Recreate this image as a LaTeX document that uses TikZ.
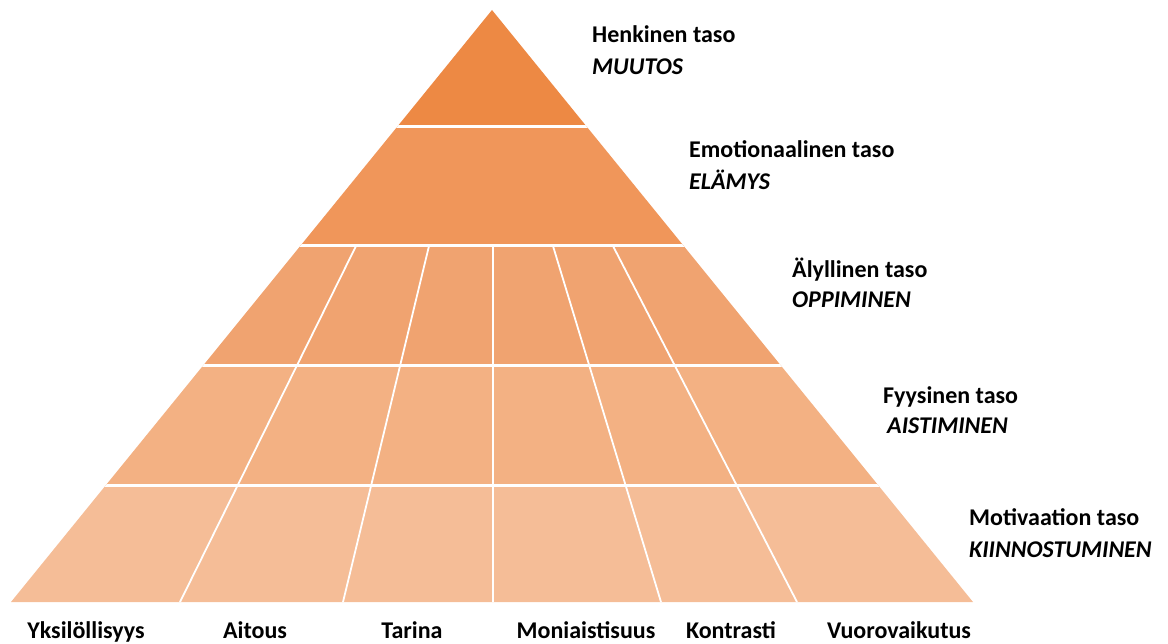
\documentclass[tikz,border=0pt]{standalone}
\usepackage{fontspec}
\usetikzlibrary{calc}
\setmainfont{Carlito}
\definecolor{lvA}{RGB}{237,137,68}
\definecolor{lvB}{RGB}{240,150,90}
\definecolor{lvC}{RGB}{240,163,112}
\definecolor{lvD}{RGB}{243,177,131}
\definecolor{lvE}{RGB}{245,189,151}
\tikzset{
  lvlabel/.style={anchor=base west, inner sep=0pt, font=\fontsize{24}{28}\selectfont\bfseries},
  lvsub/.style={anchor=base west, inner sep=0pt, font=\fontsize{24}{28}\selectfont\bfseries\itshape},
  botlabel/.style={anchor=base, inner sep=0pt, font=\fontsize{24}{28}\selectfont\bfseries},
  gap/.style={white, line width=3pt},
  divider/.style={white, line width=1.8pt}
}
\begin{document}
\begin{tikzpicture}[x=1pt,y=-1pt]
\useasboundingbox (0,0) rectangle (1168,644);
% pyramid corners
\coordinate (apex) at (492,10);
\coordinate (bl) at (11,602);
\coordinate (br) at (973,602);
% level edges
\coordinate (l1) at (397,127);   \coordinate (r1) at (587,127);
\coordinate (l2) at (300.25,246);\coordinate (r2) at (683.75,246);
\coordinate (l3) at (202.75,366);\coordinate (r3) at (781.25,366);
\coordinate (l4) at (106,485);   \coordinate (r4) at (878,485);
% levels
\fill[lvA] (apex) -- (r1) -- (l1) -- cycle;
\fill[lvB] (l1) -- (r1) -- (r2) -- (l2) -- cycle;
\fill[lvC] (l2) -- (r2) -- (r3) -- (l3) -- cycle;
\fill[lvD] (l3) -- (r3) -- (r4) -- (l4) -- cycle;
\fill[lvE] (l4) -- (r4) -- (br) -- (bl) -- cycle;
\begin{scope}
\clip (apex) -- (br) -- (bl) -- cycle;
\draw[gap] ($(l1)+(-10,0)$) -- ($(r1)+(10,0)$);
\draw[gap] ($(l2)+(-10,0)$) -- ($(r2)+(10,0)$);
\draw[gap] ($(l3)+(-10,0)$) -- ($(r3)+(10,0)$);
\draw[gap] ($(l4)+(-10,0)$) -- ($(r4)+(10,0)$);
% dividers
\coordinate (d1b) at (180,602); \coordinate (d1t) at (356,246);
\coordinate (d2b) at (343,602); \coordinate (d2t) at (429,246);
\coordinate (d3b) at (493,602); \coordinate (d3t) at (493,246);
\coordinate (d4b) at (661,602); \coordinate (d4t) at (553,246);
\coordinate (d5b) at (797,602); \coordinate (d5t) at (613,246);
\foreach \i in {1,...,5} {\draw[divider] (d\i b) -- (d\i t);}
\end{scope}
% right labels
\node[lvlabel] (h1) at (592,43) {Henkinen taso};
\node[lvsub]   (h2) at (592,75) {MUUTOS};
\node[lvlabel] (e1) at (689,158) {Emotionaalinen taso};
\node[lvsub]   (e2) at (689,190) {ELÄMYS};
\node[lvlabel] (a1) at (792,278) {Älyllinen taso};
\node[lvsub]   (a2) at (792,308) {OPPIMINEN};
\node[lvlabel] (f1) at (883,403) {Fyysinen taso};
\node[lvsub]   (f2) at (887,433) {AISTIMINEN};
\node[lvlabel] (m1) at (969,525) {Motivaation taso};
\node[lvsub]   (m2) at (969,557) {KIINNOSTUMINEN};
% bottom labels
\node[botlabel] (b1) at (86,638) {Yksilöllisyys};
\node[botlabel] (b2) at (255,638) {Aitous};
\node[botlabel] (b3) at (412,638) {Tarina};
\node[botlabel] (b4) at (586,638) {Moniaistisuus};
\node[botlabel] (b5) at (731,638) {Kontrasti};
\node[botlabel] (b6) at (899,638) {Vuorovaikutus};
\end{tikzpicture}
\end{document}
